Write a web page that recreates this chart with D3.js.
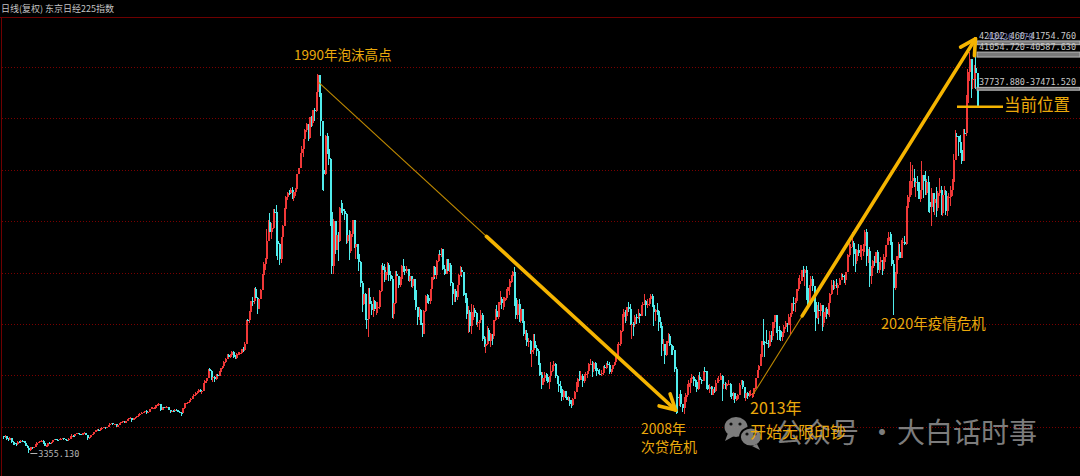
<!DOCTYPE html>
<html><head><meta charset="utf-8">
<script src="https://cdn.jsdelivr.net/npm/d3@7"></script>
<style>html,body{margin:0;padding:0;background:#000;overflow:hidden}</style>
</head><body><svg id="c" width="1080" height="476"></svg>
<script>
// ---- DATA: Nikkei 225 monthly candles, Jun 1973 .. Aug 2024 ----
const startYear = 1973, startMonth = 6;
const firstOpen = 4950;
const closes = [
4880,4920,4680,4600,4760,4400,4307,
4250,4160,4400,4350,4520,4480,4300,4050,3870,3620,3900,3817,
3920,4150,4300,4350,4460,4520,4260,4040,4060,4300,4290,4359,
4550,4650,4620,4600,4650,4700,4760,4650,4600,4540,4700,4991,
5000,4960,5120,5220,5140,5110,5080,5200,5260,5040,4750,4866,
5050,5150,5320,5550,5560,5500,5660,5700,5760,5690,5810,6002,
6100,6150,6050,6060,5820,6010,6160,6260,6340,6210,6350,6569,
6600,6610,6460,6620,6720,6800,6950,7050,7110,7200,7310,7116,
7250,7500,7600,7610,7620,7850,7900,7980,7440,7640,7610,7682,
7700,7420,7220,7320,7300,7420,7400,7230,7160,7110,7560,8017,
8020,8120,8320,8440,8700,8800,9000,9120,9300,9120,9220,9894,
10100,10420,11220,11050,10400,10500,10300,10710,10620,11010,11320,11543,
11900,12200,12580,12420,12600,12880,12400,12300,12700,12720,12780,13113,
13020,13640,15860,15820,16660,17650,17620,18820,17900,16910,17850,18701,
20050,21120,21570,23270,25050,24180,24490,26030,26010,23330,23000,21564,
23620,24740,26260,27430,27830,27770,28120,27370,27920,28190,29580,30159,
31580,31985,32839,33713,34266,32948,34954,34431,35636,35549,37268,38915,
37189,34591,29980,29584,33131,31940,31036,25978,20983,25194,22454,23848,
23293,26409,26292,26111,25790,23290,23900,22335,23916,25222,22687,22983,
22023,21338,19345,17390,18347,15951,15910,18061,17399,16767,17683,16924,
17023,17120,18591,20919,20552,19590,20380,21027,20105,19703,16407,17417,
20229,19997,19111,19725,20973,20643,20449,20629,19564,19990,19076,19723,
18650,17053,16140,16807,15437,14517,16678,18117,17913,17655,18744,19868,
20813,20125,21407,22041,21956,22531,20693,20167,21556,20466,21020,19361,
18330,18557,18003,19151,20069,20605,20331,18229,17888,16459,16636,15258,
16628,16831,16527,15641,15671,15830,16379,14108,13406,13564,14883,13842,
14499,14368,15837,16702,16112,17530,17862,17437,17605,17942,18558,18934,
19540,19960,20337,17974,16332,17411,15727,16861,15747,14539,14649,13785,
13843,12883,12999,13934,13262,12969,11860,10713,9774,10366,10697,10543,
9997,10587,11025,11492,11764,10621,9877,9619,9383,8640,9215,8579,
8340,8363,7973,7831,8425,9083,9563,10344,10219,10560,10101,10677,
10784,11042,11715,11762,11236,11858,11326,11082,10824,10771,10899,11489,
11388,11741,11668,11009,11277,11584,11900,12414,13574,13607,14872,16111,
16650,16205,17060,16907,15467,15505,15457,16141,16128,16399,16274,17226,
17383,17604,17288,17400,17876,18138,17249,16569,16786,16737,15681,15308,
13592,13603,12526,13850,14339,13481,13377,13073,11260,8577,8512,8860,
7994,7568,8110,8828,9523,9958,10357,10493,10133,10035,9345,10546,
10198,10126,11090,11057,9769,9383,9537,8824,9369,9202,9937,10229,
10237,10624,9755,9850,9694,9816,9833,8955,8700,8988,8434,8455,
8802,9723,10084,9521,8543,9007,8695,8840,8870,8928,9446,10395,
11139,11559,12398,13861,13775,13677,13668,13389,14456,14328,15662,16291,
14915,14841,14828,14304,14632,15162,15621,15425,16174,16414,17460,17451,
17674,18798,19207,19520,20563,20236,20585,18890,17388,19083,19748,19034,
17518,16027,16759,16666,17235,15576,16569,16887,16450,17425,18308,19114,
19041,19119,18909,19197,19651,20033,19925,19646,20356,22012,22724,22765,
23098,22068,21454,22468,22202,22305,22554,22865,24120,21920,22351,20015,
20773,21385,21206,22259,20601,21276,21522,20704,21756,22927,23294,23657,
23205,21143,18917,20194,21878,22288,21710,23140,23185,22977,26434,27444,
27663,28966,29179,28813,28860,28792,27284,28090,29453,28893,27822,28792,
27002,26527,27821,26848,27280,26393,27802,28092,25937,27587,27969,26095,
27327,27446,28041,28856,30888,33189,33172,32619,31858,30859,33487,33464,
36287,39166,40369,38406,38488,39583,39102,35909
];
const highs = [
5000,5010,4950,4720,4850,4790,4470,
4420,4330,4450,4470,4580,4600,4520,4340,4100,3890,3960,3940,
3950,4190,4360,4420,4490,4580,4540,4280,4120,4330,4350,4380,
4590,4700,4700,4680,4690,4740,4800,4780,4670,4620,4720,5000,
5110,5060,5140,5250,5250,5180,5150,5220,5290,5280,5050,4890,
5060,5170,5330,5560,5620,5580,5680,5760,5800,5810,5820,6010,
6190,6220,6190,6100,6080,6030,6180,6290,6370,6370,6380,6590,
6690,6700,6640,6640,6750,6820,7000,7100,7170,7250,7330,7360,
7310,7510,7690,7700,7660,7870,7940,8020,7980,7720,7700,7700,
7800,7720,7430,7370,7370,7450,7480,7420,7260,7190,7620,8020,
8090,8160,8330,8490,8720,8860,9050,9160,9360,9370,9240,9900,
10190,10450,11250,11350,11190,10580,10570,10770,10800,11050,11330,11580,
11990,12250,12620,12650,12680,12900,12950,12550,12720,12880,12880,13130,
13300,13820,15860,15990,16700,17660,18050,18830,18940,17980,17900,18820,
20200,21340,21700,24380,25250,25930,24960,26300,26270,26650,24000,23110,
23710,24780,26350,27560,27890,28080,28230,28360,28060,28250,29630,30180,
31580,32250,32900,33800,34400,34300,34960,35030,35650,35810,37300,38957,
38710,37400,34600,30500,33300,33400,33170,31100,26460,25400,25200,24550,
24120,26490,27146,26850,26300,25950,24100,24290,24200,25280,25100,23130,
22990,22900,21400,19540,18600,18400,16400,18900,18910,17650,17990,17700,
17600,17550,18700,21000,21180,21148,20800,21300,21240,20500,19980,17600,
20450,20430,20000,19950,21000,21552,20800,20900,20700,20100,19990,19800,
19700,18700,17100,17100,16900,15600,16800,18200,18300,18200,18750,19930,
20900,20900,21480,22100,22480,22666,22560,21000,21600,21600,21200,21250,
19450,18800,18800,19200,20200,20910,20800,20300,18400,18400,17200,16800,
17400,17300,17000,16600,15800,15900,16800,16500,14400,14300,15300,15100,
14600,14500,15900,16900,17300,17600,18600,18000,18000,18000,18800,19000,
19700,20100,20500,20833,18200,17700,17800,16900,16900,16000,14900,14900,
14200,14000,13300,14500,14500,13500,13100,12000,11000,11000,11000,10900,
10800,10600,11900,11600,12000,11800,10700,10500,10100,9400,9300,9100,
8800,8700,8600,8300,8500,9200,10000,10400,11100,11100,10800,10800,
11000,11100,11800,12195,12000,11900,11900,11300,11200,11300,11200,11500,
11600,11800,12000,11900,11300,11600,11900,12600,13600,13800,14900,16400,
16900,16800,17100,17563,17400,15900,15700,16300,16400,16900,16500,17300,
17600,18300,17700,17800,17900,18300,18295,17300,16900,17500,16600,16100,
15200,14100,13500,13900,14600,14500,13600,13400,12800,11400,9500,8900,
9300,8000,8600,9000,9800,10200,10400,10800,10600,10300,10200,10700,
10990,10300,11100,11400,11100,10300,9800,9700,9700,9600,10200,10400,
10600,10900,10700,9900,10000,9900,10200,9900,9100,9100,9000,8700,
8900,9900,10255,10200,9500,9100,9100,9200,9300,9000,9500,10400,
11200,11600,12650,13900,15942,13800,14900,14000,14800,14800,15700,16320,
16100,15000,15300,14900,14700,15400,15800,15600,16400,16500,17500,18030,
17900,18800,19800,20100,20600,20952,20700,20900,18900,19200,20000,20000,
18900,17900,17300,17600,17500,17000,16900,17000,17100,17500,18400,19600,
19600,19500,19700,19300,19800,20300,20200,20100,20400,22100,23382,23000,
24129,23300,22500,22500,23050,22900,22900,23000,24300,24448,22500,22700,
20900,21500,21900,22300,22400,21300,21800,21500,22100,22900,23600,24091,
24115,23995,21500,20400,21900,23185,23000,23400,23600,23800,26600,27600,
28979,30714,30400,30100,29200,29400,28800,28100,30795,29500,29900,29100,
29400,27500,28300,27800,27400,28400,28000,29222,28500,27600,28500,28100,
27500,27800,28500,29100,31500,33772,33400,33000,33300,32300,33800,33800,
36985,39426,41088,40200,39400,39800,42427,38600
];
const lows = [
4700,4790,4620,4450,4540,4250,4100,
4110,4050,4130,4290,4330,4420,4280,4010,3850,3355,3590,3750,
3800,3910,4120,4260,4320,4430,4240,4000,3970,4030,4200,4240,
4350,4540,4580,4550,4570,4630,4680,4620,4560,4490,4520,4690,
4950,4880,4930,5100,5120,5060,5050,5060,5180,5020,4600,4700,
4860,5020,5130,5300,5490,5450,5470,5640,5660,5580,5680,5800,
5980,6060,5990,5970,5800,5780,5990,6140,6220,6150,6160,6340,
6540,6550,6300,6420,6590,6700,6770,6930,7000,7080,7160,7060,
7100,7230,7450,7520,7500,7600,7780,7850,7260,7380,7500,7540,
7650,7380,7120,7180,7250,7280,7360,7170,7080,6850,7100,7530,
7860,7930,8100,8280,8410,8620,8740,8910,9090,9050,8900,9210,
9920,9980,10380,10880,10230,10020,10050,10220,10510,10560,11000,11220,
11500,11850,12180,12280,12320,12580,12320,12150,12200,12580,12550,12700,
12880,12980,13640,15200,15600,16660,17150,17400,17650,16400,16900,17800,
18700,19800,20600,21530,23250,24000,23500,24410,25000,21910,21500,21050,
21220,23360,24740,26060,27190,27570,27690,27240,27060,27550,28080,29580,
30190,31100,31200,32700,33500,32700,32900,34000,34100,34600,35400,37200,
36800,33120,28100,28000,29500,31500,30400,24700,20221,20230,22100,22800,
21456,23200,25900,25700,25240,23000,23100,21500,22200,23700,22600,21600,
21600,20500,19000,16600,17300,15900,15000,14309,17000,16300,16180,16700,
16370,16500,16900,18500,20100,19400,19600,20100,19500,19500,16078,16000,
17370,19100,18900,19000,19800,20400,20100,20300,19500,19400,19000,18900,
17700,16800,15380,15900,15400,14295,14600,16600,17500,17400,17400,18900,
19600,19700,19700,21300,21500,21800,20600,20100,20200,20460,20400,19100,
17300,17600,17600,17700,18800,20000,19900,18100,17500,15970,14600,14700,
14500,15900,16100,15400,15200,14900,15600,13900,13300,12787,13500,13600,
13300,13500,14100,15800,16000,16000,17300,16900,16800,17100,17700,18200,
18200,19300,19400,17200,16000,16000,15700,15600,15600,14400,14000,13400,
13300,12700,11400,12700,13100,12500,11600,10600,9382,9900,10000,10100,
9900,9420,10400,11000,11300,10400,9800,9100,9000,8200,8300,8500,
8300,8200,7800,7604,7800,8400,9100,9300,10100,10200,9600,9900,
10400,10400,10900,11600,10500,11000,11100,10600,10800,10700,10600,10700,
11200,11300,11600,10800,10800,11100,11500,11700,12400,13100,13400,14700,
15000,15600,15800,16600,15400,14045,14400,15200,15500,16000,15600,16200,
16900,17300,16200,17000,17200,17700,17100,15262,15800,16300,14800,15100,
12500,12900,11691,12500,13700,13400,12600,12600,11000,6995,7100,7800,
7700,7200,7054,8100,8600,9300,9000,10100,9700,9600,9076,9300,
10100,9800,10100,10900,9400,9300,9000,8800,8800,9000,9100,9900,
10200,10200,8227,9400,9400,9300,9800,8600,8400,8300,8100,8200,
8300,8800,9800,9400,8500,8238,8400,8600,8700,8500,8600,9400,
10400,10900,11500,12000,13500,12400,13600,13200,13300,13800,14000,15100,
14600,13995,14000,13900,13900,14700,15000,14750,15400,14529,16600,16700,
16600,17700,18600,19100,19500,19900,19100,17700,16901,17700,19100,18600,
16600,14865,16000,15500,16200,14864,15200,16100,16000,16300,16100,18200,
18650,18800,18900,18224,19300,19600,19900,19300,19200,20400,21800,22100,
22700,20950,20347,21100,21900,21800,21500,21900,22300,20971,21200,18949,
19241,20300,20900,21400,20300,20300,21000,20110,20500,21300,23000,23000,
22900,20900,16358,18700,19600,21500,21710,21900,22900,22900,22900,26000,
27000,27800,28300,28400,27385,28000,27200,26954,28100,27300,27600,27600,
26044,25900,24681,26000,25700,25520,26100,27500,25700,25600,27600,25700,
25600,27000,26600,27500,28700,31000,31800,31300,31600,30500,31300,32200,
33200,35900,38300,36733,37600,37700,37600,35880
];
// horizontal grid levels (price)
const gridValues = [5819, 10652, 15486, 20320, 25154, 29987, 34821, 39654];
// price gaps marked at the right edge
const gapHigh = [42102.46, 41054.72, 37737.88];
const gapLow  = [41754.76, 40587.63, 37471.52];
const gapLabels = ["42102.460-41754.760", "41054.720-40587.630", "37737.880-37471.520"];
const minLabel = "3355.130", maxLabel = "42426.770";
const titleText = "日线(复权) 东京日经225指数";
// arrow anchors: [year-month, price]
const bearFrom = ["1990-01", 38200], bearTo = ["2008-10", 7400];
const bullFrom = ["2012-11", 8900],  bullTo = ["2024-07", 42300];

// ---- DRAW ----
const W = 1080, H = 476;
const svg = d3.select('#c');
svg.append('rect').attr('width', W).attr('height', H).attr('fill', '#000');

const n = closes.length;
const x = d3.scaleBand().domain(d3.range(n)).range([2.2, 977.8]).padding(0);
const y = d3.scaleLinear().domain([3355.13, 42426.77]).range([453, 37.5]);
const cx = i => x(i) + x.bandwidth() / 2;
const idxOf = s => { const [yy, mm] = s.split('-').map(Number); return (yy - startYear) * 12 + (mm - startMonth); };

const data = closes.map((c, i) => {
  const o = i ? closes[i - 1] : firstOpen;
  return { i, o, c, h: Math.max(highs[i], o, c), l: Math.min(lows[i], o, c) };
});

// frame & grid
const frame = svg.append('g').attr('shape-rendering', 'crispEdges');
frame.append('line').attr('x1', 0).attr('x2', W).attr('y1', 17.5).attr('y2', 17.5)
  .attr('stroke', '#6e0000').attr('stroke-width', 1);
frame.append('line').attr('x1', 1.5).attr('x2', 1.5).attr('y1', 17).attr('y2', H)
  .attr('stroke', '#6e0000').attr('stroke-width', 1);
frame.selectAll('line.grid').data(gridValues).join('line').attr('class', 'grid')
  .attr('x1', 2).attr('x2', W)
  .attr('y1', d => Math.round(y(d)) + 0.5).attr('y2', d => Math.round(y(d)) + 0.5)
  .attr('stroke', '#7a0000').attr('stroke-width', 1).attr('stroke-dasharray', '1,2');

// title
svg.append('text').attr('x', 1).attr('y', 11.5).text(titleText)
  .attr('font-family', 'Noto Sans CJK SC').attr('font-size', 9).attr('fill', '#c4c4c4');

// candles
const upC = '#f03838', dnC = '#50ecec';
const cg = svg.append('g').attr('shape-rendering', 'crispEdges');
cg.selectAll('line.w').data(data).join('line').attr('class', 'w')
  .attr('x1', d => Math.round(cx(d.i)) + 0.5).attr('x2', d => Math.round(cx(d.i)) + 0.5)
  .attr('y1', d => y(d.h)).attr('y2', d => y(d.l))
  .attr('stroke', d => d.c >= d.o ? upC : dnC).attr('stroke-width', 1);
cg.selectAll('rect.b').data(data).join('rect').attr('class', 'b')
  .attr('x', d => Math.round(cx(d.i)))
  .attr('width', 1.6)
  .attr('y', d => y(Math.max(d.o, d.c)))
  .attr('height', d => Math.max(1, Math.abs(y(d.o) - y(d.c))))
  .attr('fill', d => d.c >= d.o ? upC : dnC);

// min / max labels
const minD = data.reduce((a, b) => b.l < a.l ? b : a);
const maxD = data.reduce((a, b) => b.h > a.h ? b : a);
svg.append('line').attr('x1', cx(minD.i) + 2).attr('x2', cx(minD.i) + 9)
  .attr('y1', y(minD.l) + 0.5).attr('y2', y(minD.l) + 0.5).attr('stroke', '#b4b4b4');
svg.append('text').attr('x', cx(minD.i) + 10).attr('y', y(minD.l) + 3.5).text(minLabel)
  .attr('font-family', 'DejaVu Sans Mono').attr('font-size', 8.5).attr('fill', '#b4b4b4');

// gaps at right
const lastX = cx(n - 1);
gapHigh.forEach((hv, k) => {
  svg.append('rect').attr('x', lastX).attr('width', W - lastX)
    .attr('y', y(hv)).attr('height', Math.max(2, y(gapLow[k]) - y(hv)))
    .attr('fill', '#7a7a7a').attr('stroke', '#b8b8b8').attr('stroke-width', 1);
  svg.append('text').attr('x', lastX + 2).attr('y', y(hv) - 2).text(gapLabels[k])
    .attr('font-family', 'DejaVu Sans Mono').attr('font-size', 8.5)
    .attr('textLength', 97).attr('fill', '#c8c8c8');
});
svg.append('text').attr('x', cx(maxD.i) + 12).attr('y', y(maxD.h) + 3).text(maxLabel)
  .attr('font-family', 'DejaVu Sans Mono').attr('font-size', 8.5)
  .attr('fill', '#9ea6e8').attr('opacity', 0.75);

// arrows
const gold = '#f5b400', thinC = '#c08a00';
function arrow(from, to, thickFrac) {
  const x1 = cx(idxOf(from[0])), y1 = y(from[1]);
  const x2 = cx(idxOf(to[0])), y2 = y(to[1]);
  svg.append('line').attr('x1', x1).attr('y1', y1).attr('x2', x2).attr('y2', y2)
    .attr('stroke', thinC).attr('stroke-width', 1.1);
  const tx = x1 + (x2 - x1) * thickFrac, ty = y1 + (y2 - y1) * thickFrac;
  svg.append('line').attr('x1', tx).attr('y1', ty).attr('x2', x2).attr('y2', y2)
    .attr('stroke', gold).attr('stroke-width', 3.6).attr('stroke-linecap', 'round');
  const ang = Math.atan2(y2 - y1, x2 - x1), L = 17, spread = 0.5;
  [-spread, spread].forEach(s => {
    svg.append('line').attr('x1', x2).attr('y1', y2)
      .attr('x2', x2 - L * Math.cos(ang + s)).attr('y2', y2 - L * Math.sin(ang + s))
      .attr('stroke', gold).attr('stroke-width', 3.6).attr('stroke-linecap', 'round');
  });
}
arrow(bearFrom, bearTo, 0.47);
arrow(bullFrom, bullTo, 0.22);

// current position marker
const lastY = y(closes[n - 1]);
svg.append('line').attr('x1', lastX - 20).attr('x2', lastX + 26).attr('y1', lastY).attr('y2', lastY)
  .attr('stroke', gold).attr('stroke-width', 2.4);

// watermark
const wm = svg.append('g').attr('opacity', 0.9);
wm.append('ellipse').attr('cx', 736).attr('cy', 427).attr('rx', 11.5).attr('ry', 10).attr('fill', '#8a8a8a');
wm.append('path').attr('d', 'M728,433 L725,441 L734,436 Z').attr('fill', '#8a8a8a');
wm.append('ellipse').attr('cx', 751).attr('cy', 437).attr('rx', 11).attr('ry', 9.5)
  .attr('fill', '#8a8a8a').attr('stroke', '#000').attr('stroke-width', 1.8);
wm.append('path').attr('d', 'M757,444 L760,450 L752,446 Z').attr('fill', '#8a8a8a');
[[731, 424], [740, 424], [747, 434], [755, 434]].forEach(p =>
  wm.append('circle').attr('cx', p[0]).attr('cy', p[1]).attr('r', 1.6).attr('fill', '#111'));
const wmFont = { 'font-family': 'Noto Sans CJK SC', 'font-size': 28, 'fill': '#8a8a8a' };
function wtext(tx, ty, s, anchor) {
  const t = wm.append('text').attr('x', tx).attr('y', ty).text(s).attr('text-anchor', anchor || 'start');
  Object.entries(wmFont).forEach(([k, v]) => t.attr(k, v));
}
wtext(775, 443, '公众号');
wtext(882, 443, '·', 'middle');
wtext(897, 443, '大白话时事');

// annotation texts
const noteC = '#eaa90c';
function note(tx, ty, s, size) {
  svg.append('text').attr('x', tx).attr('y', ty).text(s)
    .attr('font-family', 'Noto Sans CJK SC').attr('font-size', size).attr('fill', noteC);
}
note(294, 60, '1990年泡沫高点', 13.5);
note(641, 434, '2008年', 14);
note(641, 452, '次贷危机', 14);
note(750, 414, '2013年', 16);
note(750, 438, '开始无限印钞', 16);
note(881, 329, '2020年疫情危机', 14.5);
note(1004, 111, '当前位置', 16.5);
</script>
</body></html>
